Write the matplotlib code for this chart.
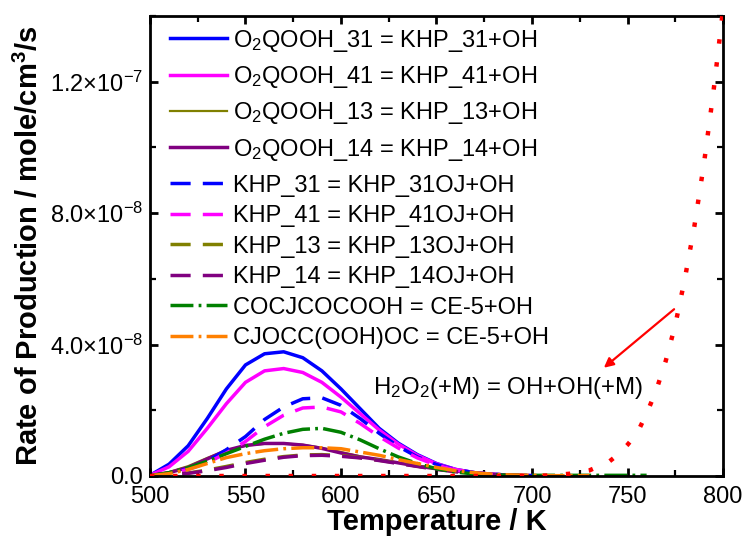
import matplotlib
matplotlib.use("Agg")
import matplotlib.pyplot as plt
from matplotlib.ticker import MultipleLocator, FixedLocator, FixedFormatter

plt.rcParams["font.family"] = ["Liberation Sans", "DejaVu Sans"]
plt.rcParams["mathtext.fontset"] = "custom"
plt.rcParams["mathtext.rm"] = "Liberation Sans"
plt.rcParams["mathtext.it"] = "Liberation Sans:italic"
plt.rcParams["mathtext.bf"] = "Liberation Sans:bold"

# temperature grid (K) for the peaked curves
T = [500, 510, 520, 530, 540, 550, 560, 570, 580, 590, 600,
     610, 620, 630, 640, 650, 660, 670, 680, 690, 700]

# rates of production, units of 1e-8 mole/cm3/s
o2qooh_31 = [0.02, 0.36, 0.92, 1.75, 2.65, 3.38, 3.72, 3.78, 3.60, 3.20, 2.65,
             2.05, 1.45, 1.00, 0.65, 0.38, 0.20, 0.10, 0.05, 0.02, 0.01]
o2qooh_41 = [0.02, 0.28, 0.75, 1.45, 2.20, 2.85, 3.20, 3.27, 3.15, 2.85, 2.40,
             1.90, 1.40, 0.97, 0.63, 0.37, 0.20, 0.10, 0.05, 0.02, 0.01]
o2qooh_13 = [0.01, 0.12, 0.30, 0.55, 0.78, 0.92, 0.98, 0.99, 0.95, 0.86, 0.73,
             0.60, 0.50, 0.40, 0.30, 0.21, 0.14, 0.08, 0.04, 0.02, 0.01]
o2qooh_14 = [0.01, 0.10, 0.26, 0.52, 0.78, 0.93, 0.99, 0.99, 0.94, 0.84, 0.70,
             0.58, 0.50, 0.40, 0.30, 0.22, 0.15, 0.09, 0.05, 0.02, 0.01]
khp_31 = [0.01, 0.08, 0.22, 0.45, 0.80, 1.20, 1.72, 2.10, 2.35, 2.38, 2.15,
          1.75, 1.30, 0.90, 0.58, 0.35, 0.19, 0.10, 0.05, 0.02, 0.01]
khp_41 = [0.01, 0.07, 0.20, 0.40, 0.70, 1.05, 1.50, 1.85, 2.07, 2.10, 1.95,
          1.60, 1.20, 0.85, 0.55, 0.33, 0.18, 0.09, 0.04, 0.02, 0.01]
khp_13 = [0.00, 0.03, 0.09, 0.18, 0.29, 0.41, 0.51, 0.59, 0.64, 0.65, 0.62,
          0.56, 0.48, 0.39, 0.30, 0.21, 0.14, 0.08, 0.04, 0.02, 0.01]
khp_14 = [0.00, 0.03, 0.08, 0.16, 0.26, 0.38, 0.48, 0.57, 0.62, 0.63, 0.60,
          0.55, 0.47, 0.38, 0.29, 0.20, 0.13, 0.08, 0.04, 0.02, 0.01]

# the CE-5 channels run a bit further in temperature
T_green = T + [710, 720, 730, 740, 750, 760]
cocjcocooh = [0.01, 0.10, 0.25, 0.45, 0.68, 0.90, 1.12, 1.30, 1.42, 1.45, 1.33,
              1.10, 0.83, 0.58, 0.38, 0.22, 0.12, 0.06, 0.03, 0.02, 0.02,
              0.02, 0.02, 0.02, 0.02, 0.02, 0.02]
T_orange = T + [710, 720, 730]
cjocc_oooh = [0.01, 0.07, 0.20, 0.38, 0.56, 0.68, 0.77, 0.83, 0.86, 0.86, 0.83,
              0.73, 0.63, 0.50, 0.38, 0.26, 0.16, 0.10, 0.05, 0.03, 0.02,
              0.01, 0.01, 0.01]

# H2O2 decomposition, 500-800 K
T_h2o2 = [500, 520, 540, 560, 580, 600, 620, 640, 660, 680, 700, 710, 720, 730,
          740, 745, 750, 755, 760, 765, 770, 775, 780, 785, 790, 795, 800]
h2o2 = [0.0, 0.0, 0.0, 0.0, 0.0, 0.0, 0.0, 0.0, 0.0, 0.0, 0.0, 0.02, 0.07, 0.17,
        0.42, 0.65, 0.95, 1.30, 1.90, 2.60, 3.50, 4.60, 6.00, 7.60, 9.50, 11.70, 14.20]

labels = [r"O$_2$QOOH_31 = KHP_31+OH", r"O$_2$QOOH_41 = KHP_41+OH",
          r"O$_2$QOOH_13 = KHP_13+OH", r"O$_2$QOOH_14 = KHP_14+OH",
          "KHP_31 = KHP_31OJ+OH", "KHP_41 = KHP_41OJ+OH",
          "KHP_13 = KHP_13OJ+OH", "KHP_14 = KHP_14OJ+OH",
          "COCJCOCOOH = CE-5+OH", "CJOCC(OOH)OC = CE-5+OH"]

y_ticks = [0, 4e-8, 8e-8, 1.2e-7]
y_tick_labels = ["0.0", r"4.0$\times$10$^{-8}$", r"8.0$\times$10$^{-8}$",
                 r"1.2$\times$10$^{-7}$"]

sc = 1e-8
dash = (0, (5.8, 3.5))
dashdot = (0, (6.6, 1.5, 0.8, 1.5))

fig = plt.figure(figsize=(7.45, 5.39), dpi=100)
ax = fig.add_axes([0.2013, 0.1169, 0.7692, 0.8534])

l1 = ax.plot(T, [v * sc for v in o2qooh_31], color="#0000ff", lw=2.5, label=labels[0])
l2 = ax.plot(T, [v * sc for v in o2qooh_41], color="#ff00ff", lw=2.5, label=labels[1])
l3 = ax.plot(T, [v * sc for v in o2qooh_13], color="#808000", lw=1.6, label=labels[2])
l4 = ax.plot(T, [v * sc for v in o2qooh_14], color="#800080", lw=2.5, label=labels[3])
l5 = ax.plot(T, [v * sc for v in khp_31], color="#0000ff", lw=2.5, ls=dash, label=labels[4])
l6 = ax.plot(T, [v * sc for v in khp_41], color="#ff00ff", lw=2.5, ls=dash, label=labels[5])
l7 = ax.plot(T, [v * sc for v in khp_13], color="#808000", lw=2.5, ls=dash, label=labels[6])
l8 = ax.plot(T, [v * sc for v in khp_14], color="#800080", lw=2.5, ls=dash, label=labels[7])
l9 = ax.plot(T_green, [v * sc for v in cocjcocooh], color="#008000", lw=2.5, ls=dashdot, label=labels[8])
l10 = ax.plot(T_orange, [v * sc for v in cjocc_oooh], color="#ff8000", lw=2.5, ls=dashdot, label=labels[9])
ax.plot(T_h2o2, [v * sc for v in h2o2], color="#ff0000", lw=3.2, ls=(0, (1, 4.2)), zorder=3)

ax.set_xlim(500, 800)
ax.set_ylim(0, 1.4e-7)
ax.xaxis.set_major_locator(MultipleLocator(50))
ax.xaxis.set_minor_locator(MultipleLocator(25))
ax.yaxis.set_major_locator(FixedLocator(y_ticks))
ax.yaxis.set_major_formatter(FixedFormatter(y_tick_labels))
ax.yaxis.set_minor_locator(MultipleLocator(2e-8))

ax.tick_params(which="both", direction="in", top=True, right=True, labelsize=17)
ax.tick_params(which="major", length=6, width=2, pad=5)
ax.tick_params(axis="x", which="major", pad=7)
ax.tick_params(which="minor", length=4, width=1.6)
for s in ax.spines.values():
    s.set_linewidth(2)

ax.set_xlabel("Temperature / K", fontsize=21, fontweight="bold", labelpad=0)
ax.set_ylabel(r"Rate of Production / mole/cm$^\mathbf{3}$/s", fontsize=21,
              fontweight="bold", labelpad=4)

# two legend blocks: the subscripted rows sit further apart
top_lines = l1 + l2 + l3 + l4
low_lines = l5 + l6 + l7 + l8 + l9 + l10
leg1 = ax.legend(top_lines, labels[:4], loc="upper left", bbox_to_anchor=(0.035, 0.975),
                 frameon=False, fontsize=17, handlelength=2.4, handletextpad=0.25,
                 labelspacing=0.44, borderpad=0, borderaxespad=0)
ax.add_artist(leg1)
ax.legend(low_lines, labels[4:], loc="upper left", bbox_to_anchor=(0.035, 0.655),
          frameon=False, fontsize=17, handlelength=2.4, handletextpad=0.25,
          labelspacing=0.36, borderpad=0, borderaxespad=0)

ax.text(617, 2.68e-8, r"H$_2$O$_2$(+M) = OH+OH(+M)", fontsize=17.3, va="center", ha="left")
ax.annotate("", xy=(736.5, 3.24e-8), xytext=(775.5, 5.13e-8),
            arrowprops=dict(arrowstyle="-|>", color="#ff0000", lw=1.6, mutation_scale=14))

fig.savefig("out.png", dpi=100)
